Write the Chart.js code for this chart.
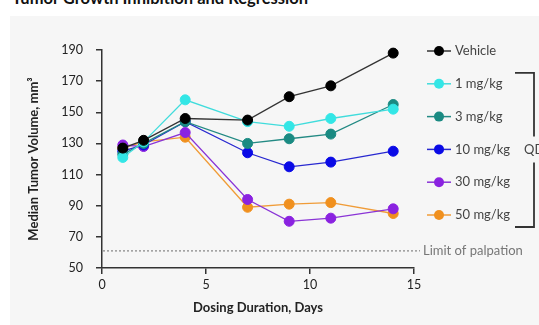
<!DOCTYPE html>
<html>
<head>
<meta charset="utf-8">
<script src="https://cdn.jsdelivr.net/npm/chart.js@4.4.0/dist/chart.umd.min.js"></script>
<style>
  html,body{margin:0;padding:0;background:#fff;}
  #wrap{position:relative;width:539px;height:325px;overflow:hidden;}
  #bg{position:absolute;left:10px;top:16px;width:529px;height:309px;background:#f6f6f6;}
  #title{position:absolute;left:12px;top:-10px;font:bold 16.5px Lato, sans-serif;color:#111;white-space:nowrap;line-height:16px;}
  canvas{position:absolute;left:0;top:0;}
</style>
</head>
<body>
<div id="wrap">
  <div id="bg"></div>
  <div id="title">Tumor Growth Inhibition and Regression</div>
  <canvas id="c" width="539" height="325"></canvas>
</div>
<script>
const days = [1, 2, 4, 7, 9, 11, 14];
const seriesNames = ['Vehicle', '1 mg/kg', '3 mg/kg', '10 mg/kg', '30 mg/kg', '50 mg/kg'];
const vehicle = [127, 132, 146, 145, 160, 167, 188];
const mg1  = [121, 131, 158, 144, 141, 146, 152];
const mg3  = [123, 130, 144, 130, 133, 136, 155];
const mg10 = [125, 129, 144, 124, 115, 118, 125];
const mg30 = [129, 128, 137, 94, 80, 82, 88];
const mg50 = [127, 131, 134, 89, 91, 92, 85];
const limitOfPalpation = 61;
const xTicks = [0, 5, 10, 15];
const yTicks = [50, 70, 90, 110, 130, 150, 170, 190];
const bracketLabel = 'QD';
const limitLabel = 'Limit of palpation';

const colors = ['#000000', '#33e6e6', '#1a8a82', '#0a0ae6', '#8a22e0', '#f0901e'];
const lineColors = ['#333333', '#40dcdc', '#238a84', '#2828d0', '#8a34d6', '#f09c38'];
const allSeries = [vehicle, mg1, mg3, mg10, mg30, mg50];

const datasets = allSeries.map((vals, i) => ({
  label: seriesNames[i],
  data: days.map((d, j) => ({x: d, y: vals[j]})),
  borderColor: lineColors[i],
  backgroundColor: colors[i],
  pointBackgroundColor: colors[i],
  pointBorderColor: colors[i],
  pointRadius: 5,
  pointBorderWidth: 1,
  borderWidth: 1.3,
  tension: 0,
  clip: false
}));

const FONT = 'Lato, sans-serif';

const extras = {
  id: 'extras',
  beforeDatasetsDraw(chart) {
    const {ctx, chartArea, scales} = chart;
    const y = scales.y.getPixelForValue(limitOfPalpation);
    ctx.save();
    ctx.strokeStyle = '#9a9a9a';
    ctx.lineWidth = 1.5;
    ctx.setLineDash([2, 2]);
    ctx.beginPath();
    ctx.moveTo(chartArea.left + 1, y);
    ctx.lineTo(chartArea.right + 6, y);
    ctx.stroke();
    ctx.restore();
  },
  afterDraw(chart) {
    const {ctx, chartArea, scales} = chart;
    ctx.save();
    const x0 = 427, x1 = 451, mx = 439, tx = 455;
    const top = 51, step = 32.8;
    ctx.font = '13px ' + FONT;
    ctx.textBaseline = 'middle';
    ctx.textAlign = 'left';
    seriesNames.forEach((name, i) => {
      const yy = top + i * step;
      ctx.strokeStyle = lineColors[i];
      ctx.lineWidth = 1.5;
      ctx.beginPath();
      ctx.moveTo(x0, yy); ctx.lineTo(x1, yy); ctx.stroke();
      ctx.fillStyle = colors[i];
      ctx.beginPath();
      ctx.arc(mx, yy, 5, 0, Math.PI * 2);
      ctx.fill();
      ctx.fillStyle = '#444';
      ctx.fillText(name, tx, yy);
    });
    // bracket
    const bTop = top + step - 11, bBot = top + 5 * step + 12;
    const bMid = top + 3 * step;
    ctx.strokeStyle = '#333';
    ctx.lineWidth = 1.8;
    ctx.beginPath();
    ctx.moveTo(515, bTop); ctx.lineTo(534, bTop); ctx.lineTo(534, bMid - 13);
    ctx.moveTo(534, bMid + 13); ctx.lineTo(534, bBot); ctx.lineTo(515, bBot);
    ctx.stroke();
    ctx.fillStyle = '#444';
    ctx.fillText(bracketLabel, 524, bMid);
    // limit label
    const ly = scales.y.getPixelForValue(limitOfPalpation);
    ctx.fillStyle = '#777';
    ctx.fillText(limitLabel, chartArea.right + 9, ly);
    ctx.restore();
  }
};

new Chart(document.getElementById('c'), {
  type: 'line',
  data: { datasets },
  options: {
    responsive: false,
    animation: false,
    layout: { padding: { left: 0, right: 125, top: 50, bottom: 0 } },
    plugins: { legend: { display: false }, tooltip: { enabled: false } },
    scales: {
      x: {
        type: 'linear',
        min: 0, max: 15,
        afterBuildTicks(s) { s.ticks = xTicks.map(v => ({value: v})); },
        afterFit(s) { s.height = 57; },
        ticks: { color: '#222', font: { family: FONT, size: 12.5 }, padding: 3 },
        grid: { display: true, drawOnChartArea: false, drawTicks: true, tickLength: 6, color: '#333', lineWidth: 1.5 },
        border: { display: true, color: '#333', width: 1.5 },
        title: { display: true, text: 'Dosing Duration, Days', color: '#222', font: { family: FONT, size: 13, weight: 'bold' }, padding: { top: 0, bottom: 9 } }
      },
      y: {
        type: 'linear',
        min: 50, max: 190,
        afterBuildTicks(s) { s.ticks = yTicks.map(v => ({value: v})); },
        afterFit(s) { s.width = 102; },
        ticks: { color: '#222', font: { family: FONT, size: 12.5 }, padding: 13 },
        grid: { display: true, drawOnChartArea: false, drawTicks: true, tickLength: 6, color: '#333', lineWidth: 1.5 },
        border: { display: true, color: '#333', width: 1.5 },
        title: { display: true, text: 'Median Tumor Volume, mm³', color: '#222', font: { family: FONT, size: 13, weight: 'bold' }, padding: { top: 26, bottom: 0 } }
      }
    }
  },
  plugins: [extras]
});
</script>
</body>
</html>
